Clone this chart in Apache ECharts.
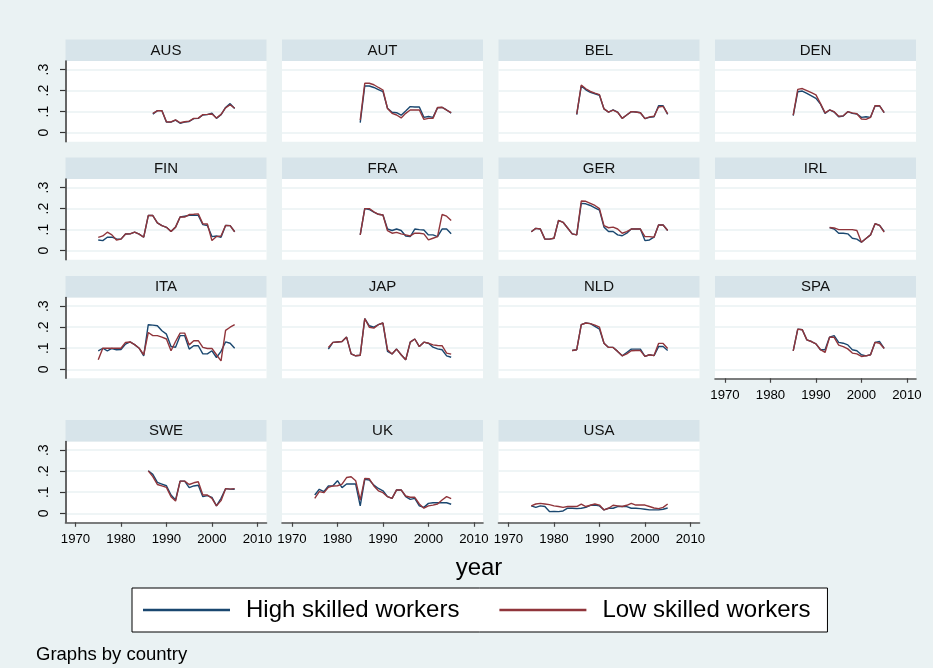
<!DOCTYPE html>
<html>
<head>
<meta charset="utf-8">
<script src="https://cdn.jsdelivr.net/npm/echarts@6/dist/echarts.min.js"></script>
<style>
html,body{margin:0;padding:0;background:#EAF2F3;}
#chart{width:933px;height:668px;}
</style>
</head>
<body>
<div id="chart"></div>
<script>
// ---------- DATA ----------
const countries = ['AUS','AUT','BEL','DEN','FIN','FRA','GER','IRL','ITA','JAP','NLD','SPA','SWE','UK','USA'];
const seriesNames = ['High skilled workers','Low skilled workers'];
const xTickValues = [1970,1980,1990,2000,2010];
const yTickValues = [0,0.1,0.2,0.3];
const yTickLabels = ['0','.1','.2','.3'];
const xTitle = 'year';
const note = 'Graphs by country';

const firstYear = {AUS:1987,AUT:1985,BEL:1985,DEN:1985,FIN:1975,FRA:1985,GER:1975,IRL:1993,ITA:1975,JAP:1978,NLD:1984,SPA:1985,SWE:1986,UK:1975,USA:1975};

const AUS_high = [0.088,0.105,0.105,0.05,0.05,0.06,0.045,0.05,0.053,0.067,0.068,0.084,0.086,0.093,0.068,0.085,0.12,0.138,0.115];
const AUS_low  = [0.092,0.104,0.104,0.052,0.051,0.061,0.047,0.052,0.055,0.068,0.069,0.086,0.087,0.089,0.07,0.087,0.118,0.133,0.116];
const AUT_high = [0.048,0.222,0.222,0.215,0.205,0.195,0.116,0.097,0.095,0.083,0.103,0.124,0.122,0.122,0.073,0.077,0.073,0.118,0.12,0.108,0.093];
const AUT_low  = [0.06,0.235,0.235,0.228,0.215,0.203,0.115,0.092,0.084,0.07,0.092,0.108,0.108,0.108,0.063,0.068,0.068,0.12,0.121,0.107,0.095];
const BEL_high = [0.086,0.222,0.204,0.192,0.185,0.178,0.113,0.098,0.108,0.098,0.068,0.084,0.1,0.098,0.095,0.067,0.073,0.076,0.128,0.128,0.087];
const BEL_low  = [0.088,0.226,0.209,0.196,0.188,0.181,0.113,0.098,0.107,0.097,0.068,0.084,0.1,0.098,0.095,0.067,0.075,0.078,0.122,0.125,0.089];
const DEN_high = [0.081,0.195,0.198,0.187,0.175,0.163,0.136,0.092,0.108,0.098,0.076,0.079,0.1,0.092,0.089,0.073,0.076,0.073,0.128,0.127,0.095];
const DEN_low  = [0.083,0.206,0.21,0.2,0.19,0.18,0.138,0.094,0.108,0.1,0.078,0.08,0.1,0.094,0.09,0.065,0.063,0.073,0.128,0.128,0.095];
const FIN_high = [0.051,0.048,0.064,0.064,0.056,0.055,0.079,0.08,0.088,0.079,0.064,0.167,0.167,0.132,0.119,0.111,0.091,0.112,0.16,0.164,0.168,0.168,0.168,0.124,0.12,0.067,0.07,0.064,0.12,0.119,0.09];
const FIN_low  = [0.063,0.07,0.088,0.075,0.051,0.055,0.079,0.08,0.088,0.079,0.064,0.167,0.167,0.132,0.119,0.111,0.091,0.112,0.16,0.16,0.172,0.173,0.175,0.128,0.127,0.048,0.067,0.07,0.12,0.119,0.09];
const FRA_high = [0.075,0.2,0.196,0.183,0.173,0.17,0.103,0.096,0.103,0.096,0.07,0.067,0.103,0.1,0.098,0.075,0.075,0.067,0.103,0.103,0.08];
const FRA_low  = [0.075,0.2,0.2,0.185,0.173,0.17,0.095,0.083,0.087,0.08,0.075,0.07,0.083,0.083,0.08,0.051,0.059,0.067,0.172,0.164,0.144];
const GER_high = [0.09,0.106,0.103,0.055,0.055,0.059,0.144,0.135,0.108,0.08,0.075,0.225,0.223,0.215,0.204,0.193,0.112,0.091,0.091,0.075,0.071,0.083,0.103,0.103,0.103,0.048,0.051,0.064,0.122,0.122,0.096];
const GER_low  = [0.09,0.106,0.103,0.055,0.055,0.059,0.144,0.135,0.108,0.08,0.075,0.236,0.235,0.225,0.215,0.2,0.119,0.109,0.112,0.103,0.083,0.091,0.103,0.103,0.103,0.067,0.067,0.064,0.122,0.122,0.096];
const IRL_high = [0.11,0.103,0.083,0.083,0.08,0.059,0.055,0.04,0.058,0.075,0.128,0.12,0.091];
const IRL_low  = [0.11,0.108,0.1,0.1,0.1,0.1,0.096,0.04,0.058,0.075,0.128,0.12,0.088];
const ITA_high = [0.088,0.1,0.088,0.099,0.093,0.094,0.12,0.13,0.117,0.1,0.064,0.212,0.21,0.207,0.183,0.167,0.108,0.105,0.16,0.16,0.096,0.112,0.112,0.073,0.073,0.088,0.056,0.085,0.13,0.124,0.1];
const ITA_low  = [0.045,0.1,0.1,0.1,0.1,0.1,0.128,0.13,0.117,0.1,0.069,0.175,0.16,0.16,0.153,0.144,0.088,0.132,0.172,0.172,0.116,0.136,0.136,0.104,0.099,0.099,0.069,0.04,0.185,0.2,0.212];
const JAP_high = [0.096,0.128,0.13,0.132,0.153,0.073,0.064,0.067,0.241,0.207,0.2,0.212,0.22,0.085,0.073,0.096,0.069,0.045,0.129,0.144,0.108,0.129,0.124,0.105,0.097,0.093,0.064,0.057];
const JAP_low  = [0.104,0.128,0.13,0.132,0.153,0.073,0.064,0.067,0.241,0.2,0.196,0.212,0.22,0.093,0.073,0.096,0.069,0.045,0.129,0.144,0.108,0.129,0.124,0.116,0.113,0.112,0.077,0.072];
const NLD_high = [0.089,0.093,0.212,0.22,0.217,0.204,0.191,0.124,0.104,0.104,0.085,0.064,0.08,0.096,0.096,0.096,0.061,0.069,0.065,0.108,0.108,0.089];
const NLD_low  = [0.089,0.093,0.212,0.22,0.217,0.21,0.2,0.124,0.104,0.104,0.085,0.064,0.073,0.088,0.089,0.089,0.061,0.069,0.065,0.123,0.123,0.099];
const SPA_high = [0.088,0.191,0.188,0.14,0.132,0.121,0.093,0.093,0.153,0.16,0.128,0.124,0.116,0.093,0.088,0.069,0.064,0.069,0.128,0.132,0.099];
const SPA_low  = [0.088,0.191,0.188,0.14,0.132,0.121,0.093,0.08,0.153,0.152,0.115,0.108,0.097,0.077,0.073,0.061,0.064,0.069,0.128,0.124,0.099];
const SWE_high = [0.202,0.185,0.147,0.139,0.131,0.087,0.063,0.153,0.153,0.122,0.13,0.133,0.079,0.084,0.076,0.035,0.071,0.117,0.115,0.114];
const SWE_low  = [0.202,0.174,0.137,0.13,0.123,0.079,0.058,0.153,0.153,0.137,0.145,0.15,0.087,0.087,0.071,0.035,0.06,0.117,0.115,0.117];
const UK_high  = [0.087,0.114,0.103,0.13,0.131,0.155,0.122,0.139,0.139,0.139,0.035,0.161,0.158,0.134,0.118,0.107,0.079,0.071,0.111,0.111,0.079,0.066,0.071,0.035,0.028,0.047,0.05,0.05,0.05,0.05,0.043];
const UK_low   = [0.071,0.103,0.098,0.123,0.13,0.131,0.139,0.17,0.174,0.155,0.063,0.166,0.164,0.13,0.107,0.098,0.079,0.071,0.111,0.111,0.082,0.076,0.076,0.044,0.024,0.035,0.039,0.044,0.063,0.079,0.07];
const USA_high = [0.035,0.028,0.035,0.032,0.008,0.009,0.008,0.011,0.024,0.024,0.022,0.024,0.028,0.038,0.039,0.035,0.016,0.024,0.024,0.032,0.032,0.032,0.024,0.024,0.022,0.019,0.016,0.016,0.016,0.019,0.025];
const USA_low  = [0.035,0.044,0.047,0.044,0.041,0.035,0.032,0.028,0.032,0.032,0.032,0.044,0.032,0.038,0.044,0.039,0.016,0.024,0.038,0.035,0.032,0.038,0.047,0.039,0.039,0.039,0.032,0.025,0.022,0.028,0.044];

const highData = {AUS:AUS_high,AUT:AUT_high,BEL:BEL_high,DEN:DEN_high,FIN:FIN_high,FRA:FRA_high,GER:GER_high,IRL:IRL_high,ITA:ITA_high,JAP:JAP_high,NLD:NLD_high,SPA:SPA_high,SWE:SWE_high,UK:UK_high,USA:USA_high};
const lowData  = {AUS:AUS_low,AUT:AUT_low,BEL:BEL_low,DEN:DEN_low,FIN:FIN_low,FRA:FRA_low,GER:GER_low,IRL:IRL_low,ITA:ITA_low,JAP:JAP_low,NLD:NLD_low,SPA:SPA_low,SWE:SWE_low,UK:UK_low,USA:USA_low};

// ---------- LAYOUT / STYLE ----------
const FONT = "'Liberation Sans', Arial, sans-serif";
const BLUE = '#1A476F', RED = '#90353B';
const colLeft = [65.5, 282, 498.5, 715];
const rowTop = [61, 179, 297.6, 441.6];
const panelW = 201, panelH = 80.7, stripH = 21.5;
const bottomPanels = ['SPA','SWE','UK','USA'];

const grids = [], xAxes = [], yAxes = [], series = [], graphics = [];
countries.forEach((c, i) => {
  const col = i % 4, row = Math.floor(i / 4);
  grids.push({left: colLeft[col], top: rowTop[row], width: panelW, height: panelH,
    show: true, backgroundColor: '#ffffff', borderWidth: 0, containLabel: false});
  const showX = bottomPanels.includes(c);
  xAxes.push({type: 'value', gridIndex: i, min: 1967.8, max: 2012,
    axisLine: {show: showX, onZero: false, lineStyle: {color: '#555', width: 1.6}},
    axisTick: {show: showX, length: 4.5, customValues: xTickValues, lineStyle: {color: '#444', width: 1.2}},
    axisLabel: {show: showX, customValues: xTickValues, margin: 10.5, color: '#000', fontSize: 13.2, fontFamily: FONT,
      formatter: v => String(v)},
    splitLine: {show: false}});
  const showY = col === 0;
  yAxes.push({type: 'value', gridIndex: i, min: -0.043, max: 0.341,
    axisLine: {show: showY, onZero: false, lineStyle: {color: '#333', width: 1.5}},
    axisTick: {show: showY, length: 5.5, customValues: yTickValues, lineStyle: {color: '#333', width: 1.2}},
    axisLabel: {show: showY, customValues: yTickValues, rotate: 90, margin: 14, color: '#000', fontSize: 14, fontFamily: FONT,
      formatter: v => yTickLabels[yTickValues.findIndex(t => Math.abs(t - v) < 1e-9)] ?? ''},
    splitLine: {show: true, lineStyle: {color: '#EAF2F3', width: 1.5}}});
  const y0 = firstYear[c];
  series.push({name: seriesNames[0], type: 'line', xAxisIndex: i, yAxisIndex: i, symbol: 'none',
    lineStyle: {color: BLUE, width: 1.4}, itemStyle: {color: BLUE},
    data: highData[c].map((v, k) => [y0 + k, v])});
  series.push({name: seriesNames[1], type: 'line', xAxisIndex: i, yAxisIndex: i, symbol: 'none',
    lineStyle: {color: RED, width: 1.4}, itemStyle: {color: RED},
    data: lowData[c].map((v, k) => [y0 + k, v])});
  graphics.push({type: 'rect', shape: {x: colLeft[col], y: rowTop[row] - stripH, width: panelW, height: stripH},
    style: {fill: '#D7E4EA'}, silent: true});
  graphics.push({type: 'text', x: colLeft[col] + panelW / 2, y: rowTop[row] - stripH / 2 + 0.5,
    style: {text: c, fill: '#111', font: '15px ' + FONT, textAlign: 'center', textVerticalAlign: 'middle'}, silent: true});
});
graphics.push({type: 'text', x: 479, y: 568, style: {text: xTitle, fill: '#000', font: '24px ' + FONT, textAlign: 'center', textVerticalAlign: 'middle'}});
graphics.push({type: 'text', x: 36, y: 655, style: {text: note, fill: '#000', font: '18.5px ' + FONT, textAlign: 'left', textVerticalAlign: 'middle'}});

const chart = echarts.init(document.getElementById('chart'), null, {renderer: 'canvas'});
chart.setOption({
  backgroundColor: '#EAF2F3',
  animation: false,
  grid: grids, xAxis: xAxes, yAxis: yAxes, series: series,
  legend: {data: seriesNames.map(n => ({name: n, icon: 'rect'})), left: 132, top: 588, padding: [10, 17, 10, 11], itemGap: 40,
    itemWidth: 87, itemHeight: 2.5, backgroundColor: '#fff', borderColor: '#000', borderWidth: 1, borderRadius: 0,
    selectedMode: false,
    textStyle: {fontSize: 24, lineHeight: 24, color: '#000', fontFamily: FONT, padding: [0, 0, 0, 11]}},
  graphic: graphics
});
</script>
</body>
</html>
